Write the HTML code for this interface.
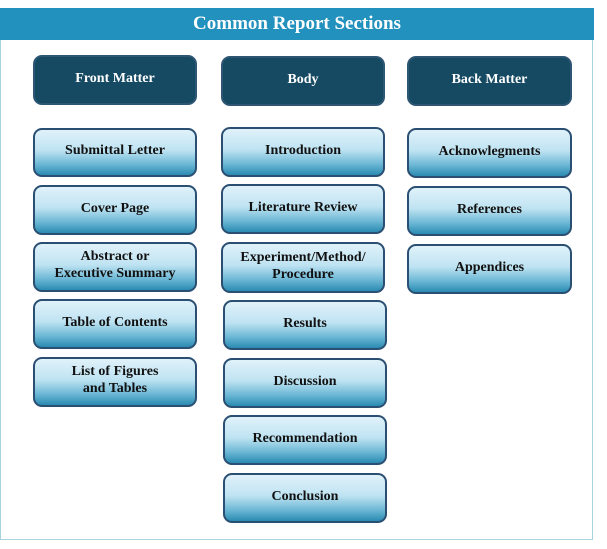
<!DOCTYPE html>
<html><head><style>
body{margin:0;width:607px;height:549px;background:#fff;position:relative;overflow:hidden;font-family:"Liberation Serif",serif;font-weight:bold}
.frame{position:absolute;left:0;top:8px;width:593px;height:532px;border:1px solid #a9d3e0;border-top:none;box-sizing:border-box}
.hdr{position:absolute;left:0;top:8px;width:594px;height:32px;background:#2391bd;color:#fff;font-size:19px;text-align:center;line-height:32px}
.b{position:absolute;box-sizing:border-box;border:2px solid #2b4f72;border-radius:9px;display:flex;align-items:center;justify-content:center;text-align:center;font-size:14px;line-height:17px;color:#111;padding-bottom:4px;background:linear-gradient(#e0f2fa 0%,#bfe3f2 45%,#6fb9d6 75%,#2a8bb2 100%)}
.h{background:#164a63;color:#fff;border-color:#2e5673}
</style></head><body>
<div class="frame"></div>
<div class="hdr">Common Report Sections</div>
<div class="b h" style="left:33px;top:55px;width:164px;height:50px">Front Matter</div>
<div class="b h" style="left:221px;top:56px;width:164px;height:50px">Body</div>
<div class="b h" style="left:407px;top:56px;width:165px;height:50px">Back Matter</div>

<div class="b" style="left:33px;top:128px;width:164px;height:49px">Submittal Letter</div>
<div class="b" style="left:33px;top:185px;width:164px;height:50px">Cover Page</div>
<div class="b" style="left:33px;top:242px;width:164px;height:50px">Abstract or<br>Executive Summary</div>
<div class="b" style="left:33px;top:299px;width:164px;height:50px">Table of Contents</div>
<div class="b" style="left:33px;top:357px;width:164px;height:50px">List of Figures<br>and Tables</div>

<div class="b" style="left:221px;top:127px;width:164px;height:50px">Introduction</div>
<div class="b" style="left:221px;top:184px;width:164px;height:50px">Literature Review</div>
<div class="b" style="left:221px;top:242px;width:164px;height:51px">Experiment/Method/<br>Procedure</div>
<div class="b" style="left:223px;top:300px;width:164px;height:50px">Results</div>
<div class="b" style="left:223px;top:358px;width:164px;height:50px">Discussion</div>
<div class="b" style="left:223px;top:415px;width:164px;height:50px">Recommendation</div>
<div class="b" style="left:223px;top:473px;width:164px;height:50px">Conclusion</div>

<div class="b" style="left:407px;top:128px;width:165px;height:50px">Acknowlegments</div>
<div class="b" style="left:407px;top:186px;width:165px;height:50px">References</div>
<div class="b" style="left:407px;top:244px;width:165px;height:50px">Appendices</div>
</body></html>
